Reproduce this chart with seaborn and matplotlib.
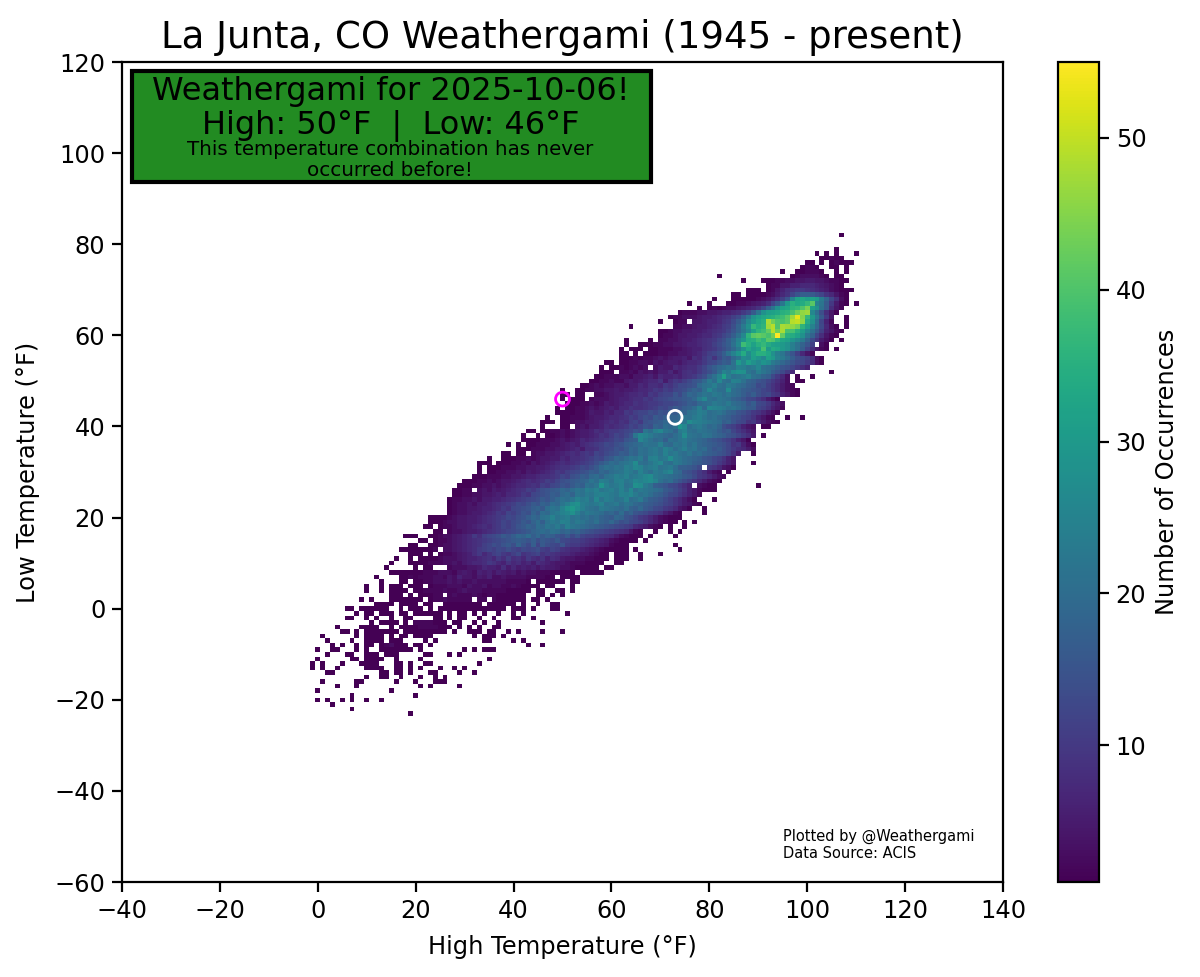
import numpy as np
import matplotlib
matplotlib.use("Agg")
import matplotlib.pyplot as plt
from matplotlib.patches import Rectangle
import seaborn as sns

TITLE = "La Junta, CO Weathergami (1945 - present)"
XLABEL = "High Temperature (°F)"
YLABEL = "Low Temperature (°F)"
CBAR_LABEL = "Number of Occurrences"
X_TICKS = [-40, -20, 0, 20, 40, 60, 80, 100, 120, 140]
Y_TICKS = [-60, -40, -20, 0, 20, 40, 60, 80, 100, 120]
CBAR_TICKS = [10, 20, 30, 40, 50]
TODAY = (50, 46)
NORMAL = (73, 42)

# Count symbols: index in this string = number of occurrences
SYMBOLS = ".123456789abcdefghijklmnopqrstuvwxyzABCDEFGHIJKLMNOPQRST"

ROW_LOWS = list(range(82, -24, -1))
ROW_STARTS = [107, 0, 0, 106, 102, 103, 100, 99, 95, 82,
              87, 92, 88, 85, 81, 76, 78, 74, 72, 70,
              64, 70, 70, 63, 63, 62, 62, 62, 59, 58,
              58, 57, 56, 54, 50, 50, 50, 51, 49, 49,
              47, 46, 46, 43, 42, 42, 39, 41, 38, 35,
              33, 33, 33, 32, 30, 29, 28, 28, 27, 27,
              27, 27, 23, 23, 22, 24, 18, 21, 19, 17,
              19, 16, 15, 14, 15, 12, 13, 10, 10, 15,
              9, 12, 6, 8, 6, 11, 4, 5, 1, 2,
              3, 0, 2, 0, -1, -1, 2, 10, 1, 4,
              0, 7, 0, 3, 7, 19]
ROW_COUNTS = [
    "1",  # 82
    "",
    "",
    "1",
    "1.1.1...1",
    "11211",
    "11.1.12111",
    "1221..11.1",
    "1..112221..1.1",
    "1..............12333321.11",
    "1...111223344554432211",  # 72
    "1224466777654321",
    "111.124689aa9876532111",
    "11.111123579cfhhgec97421",
    "1...1111123468bfpwxvwunic831",
    "1...1...112234568cgmuzxyBFpmga521.1",
    "1.12123345679chmswxABEIwslg842",
    "1222334456678acgmsvwxzADHKLqke841",
    "1223334556789bdhmsvxyzBCFLRJBunga4..1",
    "1..122.4456679adgkquxzMHEDFNOKyskc62..1",
    "1........2233455678abeinsByALNEMLKIAvpjd731.1",  # 62
    "1123344556789acfimqwACGNHMDDzvqlgb6421",
    "122344556779acehlqAFGFDHTGzywsmic8421",
    "1....1.22334556789acehkptyzCAFEAxwtqnid9531.1",
    "1..111223344566789bdfhlqCzwzBywvusolifb.31",
    "1.111.1122233456689acegjnsxuwDuyxusolhc8421.1",
    "11.1.1112233445679bcehlptyrwzzxsomifb742",
    "1112122343 4556487ac9 dgfjmrqvtq wupnkhedb8 31",  # 55
    "11. 1122332434 5546778acd fhgluqvsqt rnljhfdca8 31",
    "1.11212323 .354476788 acfhjkmlpo mnqlkjhfec a86",
    "111.223243 4355746898 acegkpnrts mkomkhfda7 .......1",  # 52
    "1122233244 5647667689 aceilpwolm nplkihda73 .1..1",
    "1122322454 5677958a9b dfgjnkqlkp olihfeca86 3.11",
    "1123233443 5576887a9b ddefjlmolk nmkjhgdeb9 7532",
    "1..11 2233445455 6778a9bacd egihlqmkkr kjhgfecb97 5321",
    "11.11.. 2234556778 7a9bccfdgj ikmlnmkmkj hfhecda964 21",
    "1.111. 2333456678 8a9bcdeffg hjnqlkmlki hfdca8531",
    "1112232354 5677989aab ccdefhgjkl nmlnkjifhd ca753",
    "1. 1122343456 5779889abd cegfhikojq ponlmkiggc b9642",
    "1111223544 6577a9bcce dfehgjilmo nklmkihfec a97531",
    "1.. 1122234556 7789bacedg fhiijmlnom kljihfecb9 6421 ..1..1",  # 42
    "111. 1123344567 8798bcaefg hjikjmrpon mlkhifdc9a 75321",
    "1... 11. 3435568789 acbdfeihkj ltqkmnljki ecb9643 .11",
    "11. 1122323455 6879aabcdf emkoqmlinp lkmlkjhfgc a864",
    "1..1. 1123234556 798acbdfmq pnlkjikmrm lkmljihfec a85 .1",
    "1111222343 4576789abd cfghqnljkh lkmnlkjigf ecb9641",
    "1.1. 1122233456 5789abdcef hijkmllokj mlnkmjihgf ec9a631",
    "1112223344 5675889bcd fegjilkmnl pnkmolmjkh fgeca8753",
    "11.11. 2334456787 9a9cbdefhg jilkmnlpmn lkmjkihgfe c95 ..1",
    "1.. 1112232344 5576889abd cfgjikmlnj opmnrnmkji hfecb964",
    "111. 1112232434 5678789abc egikjlmnrl kmoqlknmkj hgfeca864 ...1",  # 32
    "1. 1112223344 5567899abd cegjlkmlon qpmnolmnkh hgfd.a97431",
    "1. 1122334354 5678a9bcde fhgjiklmon lpmknmoqkj feca8532 .1",
    "1112223344 5667889acb efhgjkilmo npmnoqrnml kjigfda975 32",
    "1112232344 5678789bac efghijmkon lopmnqpqrp ljkhfdb975 321",
    "1112233434 5677898bac dfegihlkmt omnplmsrnl hgfdca86 .3211 ........1",
    "1122.34354 56789bacef ghjikmlonp mnompmqlnm lkjgfdb964 2111",
    "1122334456 5778a9cdef hgjkimlnmo ponmpoqnlm kihfdca864 2",
    "1223343556 6789abcdeg fhjlkmpnol qmonlmpkln jhgfdb9753 1...1",
    "1233435567 89abdcegfi hkjmorsonm nplmnkmlji hgfecb9754 21",
    "1233445667 8a9cdefhig kmlpsuroml knmlkjlihj gfdca97431 ..1",  # 22
    "1233455678 a9cbdfeigk jmnpqsolnm lkijhkgife dba96421 ....1",
    "1111234455 6789abdcef hjilmpmnol mkljkihgji feca975321 11",
    "1112334455 6789acbdeg fikhlnmpol nmkjlihjge fdcb975321 1 .1.1",
    "11. 1223445678 79acbdfgih kjmlnkomlk jihgfedcba 765321 .1..1",
    "11. 2334556789 abcdefgijk jlkijhigfe dcba987421 ..1..1.1",
    "111..11 2334567a8b cdegfhjikh jgihfegdfc bba9875321 11.1....1",
    "11. 1223456789 abcdefghgf hegfegdcbb a98765321 111.1",
    "11..11 233456789b cedfgeifdh cgedcfbaa9 876542 111.........1",
    "11111112. 3345678abc bdcecbdcde bacb987765 432 11111.1........1",
    "111.1.1 2234568a79 bca9bd9abc 9a98776544 32 11.111..1...1",  # 12
    "1..1.1111 2333456678 97a8b897a8 7968754433 22 111.111..1",
    "1...1111 2223343567 78a9769786 7587654432 221 111..11",
    "1.....1.11... 2333445766 5857565646 554332 11111.11",
    "1111111 2223332454 3656465453 43322 211 111.11111",
    "1....11212 2233243644 3546334333 32222 11.1111",
    "1...11.11 2233343433 4333333222 2 1.111111.11",
    "1..1.111.111.1 2223332433 42332232 1111.11...1",
    "1..1.1111.11 2222322343 3322222 11111.11..11.1",
    "111.1.111 22. 2322232 1 22 111111 .. 11 . 1 . 1",
    "1.1...111111 1.122322222.22.21111 11.11.1",  # 2
    "1111.1111.11..11111111.111111.1..1..11",
    "11.111111..1.111.1.11111111111111.111.1...11",
    "1.11.111.11.111111.1.11.1.1..1..1.1........1",
    "11..1.1..1..11....11.1.11..1..1...11..1",
    "1.1111.1.2222111.11..1.1..1........1",
    "1....1111..1.11112222111.1.1.1..11",
    "11.1.1111111.111111111.1..111.11..1.1....1...1",
    "1......1.1111.1.11.1111........1.111.1",
    "1....1..1111.111....1.1.........11....1.1",
    "1.1..1.11.123111.11.1...................1..1",
    "1..11...1.1..1111111.1........1.1.111",
    "1...11..111.111.....11...1.1",
    "1......11.1111..1....1.............1",
    "1.1...1...1111...11.1..11.........1",
    "1.1..1.....1111..11.1.1...1..1.1",
    "11.........11.11.1...11....1..1",
    "1..11..1...1..1.1",
    "1......11......1...1...111",
    "1...1............1.1.....1",
    "1..............1",
    "1............1",
    "1.1..1.1..1..1",
    "1",
    "1",
    "1",
]

X_MIN, Y_MIN = -40, -60
SIZE = 181
grid = np.zeros((SIZE, SIZE))
for low, start, text in zip(ROW_LOWS, ROW_STARTS, ROW_COUNTS):
    for offset, symbol in enumerate(text.replace(" ", "")):
        col = start + offset - X_MIN
        if 0 <= col < SIZE:
            grid[low - Y_MIN, col] = SYMBOLS.index(symbol)

sns.set_theme(style="white", rc={"font.family": "DejaVu Sans"})
fig = plt.figure(figsize=(12, 9.77), dpi=100)
W, H = 1200.0, 977.0
ax = fig.add_axes([122 / W, 1 - 882 / H, 881 / W, 820 / H])
cax = fig.add_axes([1058 / W, 1 - 882 / H, 41 / W, 820 / H])

sns.heatmap(grid, mask=grid == 0, cmap="viridis", vmin=1, vmax=55, ax=ax,
            cbar_ax=cax, cbar_kws={"label": CBAR_LABEL, "ticks": CBAR_TICKS},
            xticklabels=False, yticklabels=False, rasterized=True)

def xpos(v):
    return v - X_MIN + 0.5

def ypos(v):
    return v - Y_MIN + 0.5

ax.set_xlim(xpos(X_TICKS[0]), xpos(X_TICKS[-1]))
ax.set_ylim(ypos(Y_TICKS[0]), ypos(Y_TICKS[-1]))
ax.set_xticks([xpos(v) for v in X_TICKS])
ax.set_xticklabels([str(v).replace("-", "\u2212") for v in X_TICKS], rotation=0)
ax.set_yticks([ypos(v) for v in Y_TICKS])
ax.set_yticklabels([str(v).replace("-", "\u2212") for v in Y_TICKS], rotation=0)
ax.tick_params(axis="both", which="major", labelsize=17.4, length=7, width=1.6,
               color="black", labelcolor="black", bottom=True, left=True, pad=5)
for sp in ax.spines.values():
    sp.set_visible(True)
    sp.set_color("black")
    sp.set_linewidth(1.6)

ax.set_title(TITLE, fontsize=26.7, color="black", pad=10)
ax.set_xlabel(XLABEL, fontsize=17.4, color="black", labelpad=9)
ax.set_ylabel(YLABEL, fontsize=17.4, color="black", labelpad=10)

cbar = ax.collections[0].colorbar
cbar.outline.set_visible(True)
cbar.outline.set_edgecolor("black")
cbar.outline.set_linewidth(1.6)
cax.tick_params(labelsize=17.4, length=7, width=1.6, color="black", labelcolor="black", right=True, pad=5)
cax.set_ylabel(CBAR_LABEL, fontsize=17.4, color="black", labelpad=6)

ax.scatter([xpos(TODAY[0])], [ypos(TODAY[1])], s=100, facecolors="none",
           edgecolors="magenta", linewidths=2, zorder=5)
ax.scatter([xpos(NORMAL[0])], [ypos(NORMAL[1])], s=100, facecolors="none",
           edgecolors="white", linewidths=2, zorder=5)

ax.add_patch(Rectangle((10 / 881, 1 - 120 / 820), 519 / 881, 111 / 820,
                       transform=ax.transAxes, facecolor="forestgreen",
                       edgecolor="black", linewidth=3, zorder=6))
ax.text(269 / 881, 1 - 47 / 820, "Weathergami for 2025-10-06!\nHigh: 50°F  |  Low: 46°F",
        transform=ax.transAxes, ha="center", va="center", fontsize=23, color="black",
        linespacing=1.13, zorder=7)
ax.text(268 / 881, 1 - 98 / 820, "This temperature combination has never\noccurred before!",
        transform=ax.transAxes, ha="center", va="center", fontsize=14.3, color="black",
        linespacing=1.08, zorder=7)
ax.text(661 / 881, 1 - 783 / 820, "Plotted by @Weathergami\nData Source: ACIS",
        transform=ax.transAxes, ha="left", va="center", fontsize=10.5, color="black", zorder=7)

fig.savefig("out.png", dpi=100, facecolor="white")
